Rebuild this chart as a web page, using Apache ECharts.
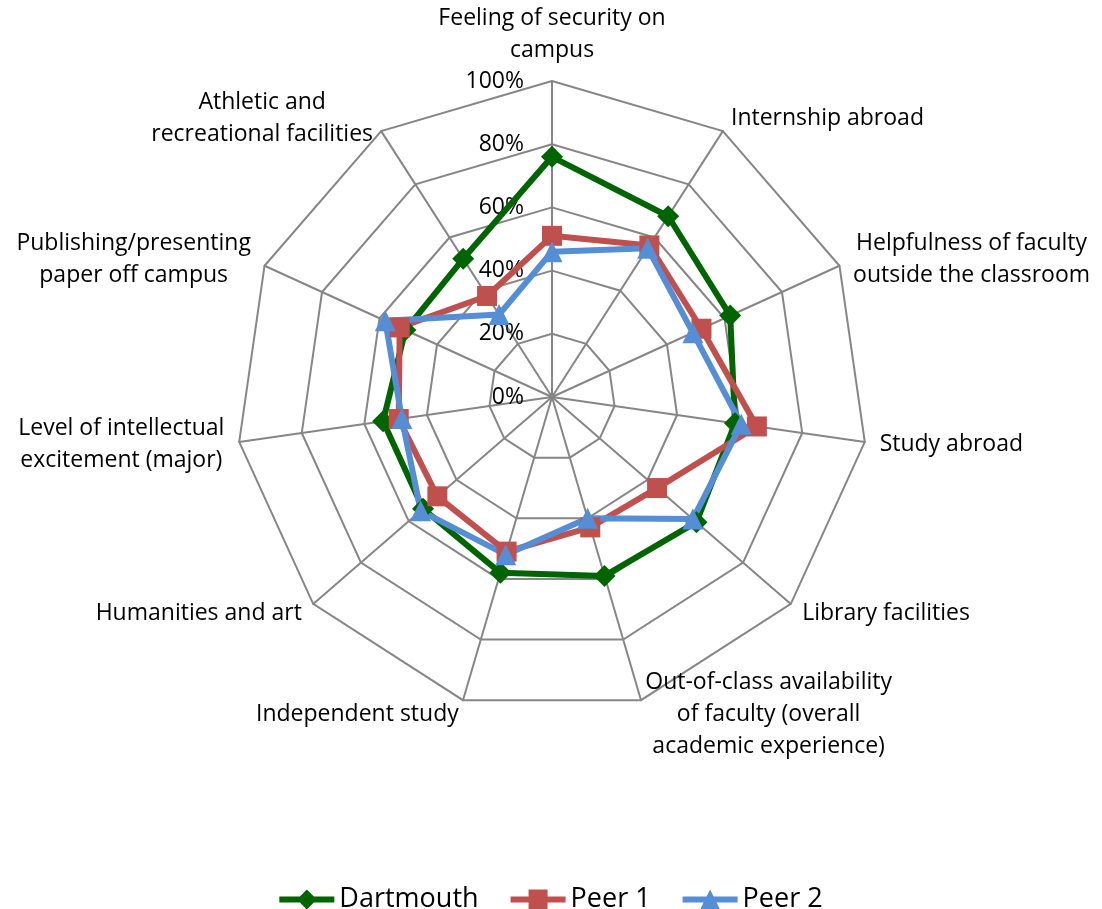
<!DOCTYPE html>
<html>
<head>
<meta charset="utf-8">
<title>Satisfaction radar</title>
<script src="https://cdn.jsdelivr.net/npm/echarts@6/dist/echarts.min.js"></script>
<style>
  html, body { margin: 0; padding: 0; background: #fff; }
  #chart { width: 1102px; height: 909px; }
</style>
</head>
<body>
<div id="chart"></div>
<script>
// categories, clockwise from the top
const categories = [
  'Feeling of security on\ncampus',
  'Internship abroad',
  'Helpfulness of faculty\noutside the classroom',
  'Study abroad',
  'Library facilities',
  'Out-of-class availability\nof faculty (overall\nacademic experience)',
  'Independent study',
  'Humanities and art',
  'Level of intellectual\nexcitement (major)',
  'Publishing/presenting\npaper off campus',
  'Athletic and\nrecreational facilities'
];
const dartmouth = [76, 68, 62, 58.5, 60.5, 59, 58, 54, 54, 51, 52];
const peer1 = [51, 57, 52, 65.5, 44, 43, 51, 48, 49, 53, 38];
const peer2 = [46, 56, 49, 60.5, 59, 40, 52, 55, 48, 58, 31];
const tickValues = [0, 20, 40, 60, 80, 100];

const FONT = 'Open Sans';
const GRID = '#868686';

// radar lays indicators out counter-clockwise, so flip the order
const order = categories.map((_, i) => (categories.length - i) % categories.length);
const reorder = arr => order.map(k => arr[k]);

const indicator = order.map((k, j) => {
  const ind = { name: categories[k], min: 0, max: tickValues[tickValues.length - 1] };
  if (j === 0) ind.axisLabel = { show: true };
  return ind;
});

// legend icons: a thick line with the marker in the middle
const icons = {
  diamond: 'path://M0,7L55,7L55,13L0,13Z M27.5,0L37.5,10L27.5,20L17.5,10Z',
  rect: 'path://M0,7L55,7L55,13L0,13Z M18,0L37,0L37,20L18,20Z',
  triangle: 'path://M0,7L55,7L55,13L0,13Z M27.5,0L37.5,20L17.5,20Z'
};

const seriesDefs = [
  { name: 'Dartmouth', values: dartmouth, color: '#006400', symbol: 'diamond', size: 22 },
  { name: 'Peer 1', values: peer1, color: '#C0504D', symbol: 'rect', size: 20 },
  { name: 'Peer 2', values: peer2, color: '#558ED5', symbol: 'triangle', size: 21 }
];

const chart = echarts.init(document.getElementById('chart'));

chart.setOption({
  animation: false,
  textStyle: { fontFamily: FONT },
  legend: {
    left: 'center',
    top: 881,
    itemWidth: 55,
    itemHeight: 20,
    itemGap: 32,
    itemStyle: { borderWidth: 0 },
    textStyle: { color: '#000', fontSize: 27, fontFamily: FONT },
    data: seriesDefs.map(s => ({ name: s.name, icon: icons[s.symbol], itemStyle: { color: s.color } }))
  },
  radar: {
    center: [552, 397],
    radius: 316,
    startAngle: 90,
    shape: 'polygon',
    splitNumber: tickValues.length - 1,
    nameGap: 15,
    axisName: {
      color: '#000',
      fontSize: 23,
      fontFamily: FONT,
      lineHeight: 32,
      formatter: name => name.split('\n').map(s => '{c|' + s + '}').join('\n'),
      rich: {
        c: { align: 'center', color: '#000', fontSize: 23, fontFamily: FONT, lineHeight: 32 }
      }
    },
    axisLine: { lineStyle: { color: GRID, width: 2 } },
    splitLine: { lineStyle: { color: GRID, width: 2 } },
    splitArea: { show: false },
    axisTick: { show: false },
    axisLabel: {
      show: false,
      color: '#000',
      fontSize: 23,
      fontFamily: FONT,
      margin: 28,
      formatter: v => v + '%'
    },
    indicator
  },
  series: [{
    type: 'radar',
    emphasis: { disabled: true },
    data: seriesDefs.map(s => ({
      name: s.name,
      value: reorder(s.values),
      symbol: s.symbol,
      symbolSize: s.size,
      itemStyle: { color: s.color },
      lineStyle: { color: s.color, width: 6 }
    }))
  }]
});
</script>
</body>
</html>
